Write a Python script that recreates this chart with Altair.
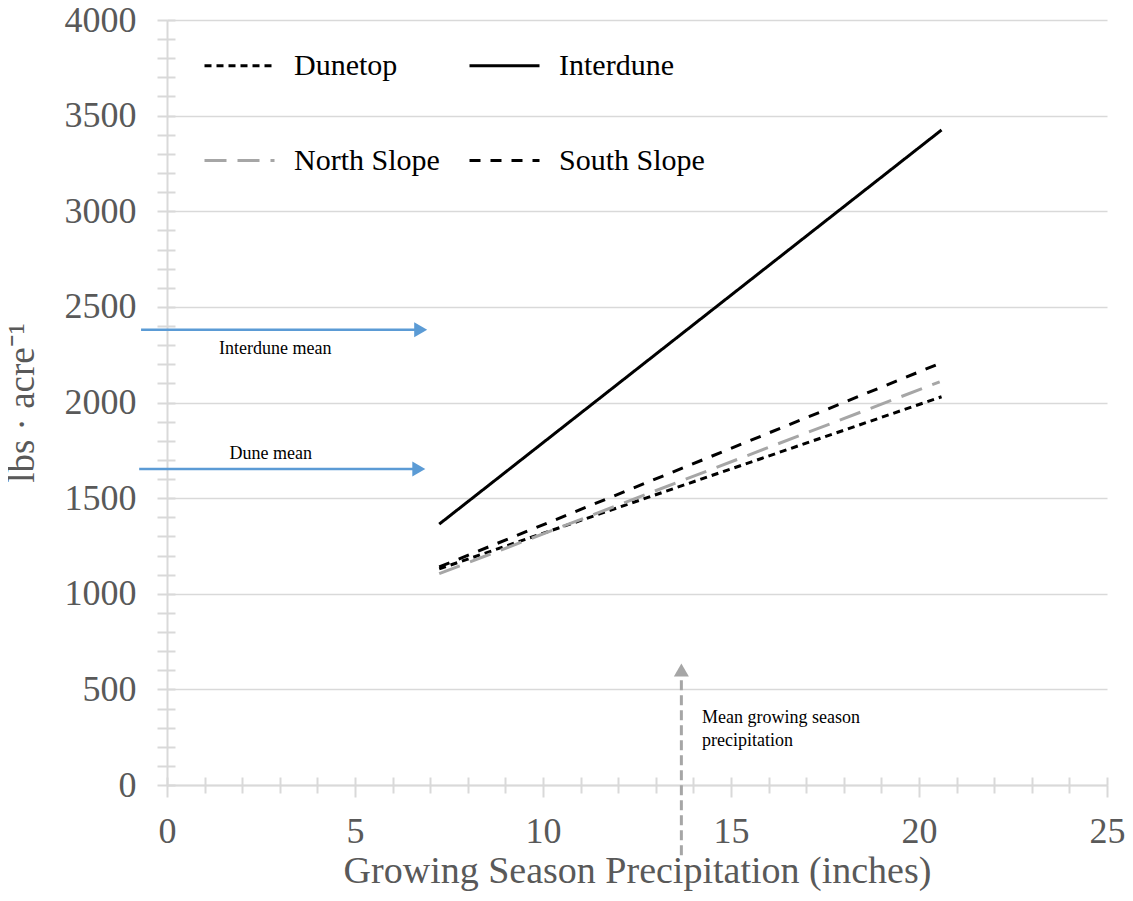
import altair as alt
import pandas as pd

# ---------------- data ----------------
series = ["Dunetop", "Interdune", "North Slope", "South Slope"]
legend_order = ["Dunetop", "North Slope", "Interdune", "South Slope"]
x_start = [7.24, 7.24, 7.24, 7.24]
x_end = [20.6, 20.6, 20.55, 20.6]
y_start = [1130, 1364, 1105, 1140]
y_end = [2030, 3425, 2108, 2208]

line_colors = {"Dunetop": "#000000", "Interdune": "#000000",
               "North Slope": "#A6A6A6", "South Slope": "#000000"}
line_dashes = {"Dunetop": [7, 5], "Interdune": [1, 0],
               "North Slope": [22, 11], "South Slope": [11, 10]}

mean_labels = ["Interdune mean", "Dune mean"]
mean_values = [2380, 1652]
mean_x_from = [-0.69, -0.74]
mean_x_line_to = [6.6, 6.55]
mean_x_tip = [6.92, 6.87]
mean_label_x = [2.88, 2.76]
mean_label_y = [2281, 1731]

precip_mean = [13.68]
precip_from = [-367]
precip_line_to = [590]
precip_tip = [635]
precip_label_lines = ["Mean growing season", "precipitation"]
precip_label_x = [14.23]
precip_label_y = [400]

x_ticks = list(range(0, 26))
y_ticks = list(range(0, 4001, 100))

# ---------------- styling ----------------
FONT = "Liberation Serif"
GRID = "#D9D9D9"
AXC = "#595959"
BLUE = "#5B9BD5"
ARROW_GREY = "#A6A6A6"

rows = []
for s, xa, xb, ya, yb in zip(series, x_start, x_end, y_start, y_end):
    rows.append({"series": s, "x": xa, "y": ya})
    rows.append({"series": s, "x": xb, "y": yb})
lines_df = pd.DataFrame(rows)

mean_df = pd.DataFrame({
    "label": mean_labels, "y": mean_values, "x": mean_x_from,
    "x2": mean_x_line_to, "tip": mean_x_tip, "lx": mean_label_x, "ly": mean_label_y,
})
precip_df = pd.DataFrame({
    "x": precip_mean, "y": precip_from, "y2": precip_line_to, "tip": precip_tip,
    "lx": precip_label_x, "ly": precip_label_y,
})

x_scale = alt.Scale(domain=[0, 25], nice=False, zero=False)
y_scale = alt.Scale(domain=[0, 4000], nice=False, zero=False)

x_axis = alt.Axis(
    orient="bottom", values=x_ticks,
    labelExpr="datum.value % 5 === 0 ? datum.label : ''",
    title="Growing Season Precipitation (inches)", grid=False,
    domainColor=GRID, domainWidth=2, tickColor=GRID, tickWidth=2,
    tickSize={"condition": {"test": "datum.value % 5 === 0", "value": 12}, "value": 8},
    labelFont=FONT, labelFontSize=36, labelColor=AXC, labelPadding=17,
    labelFlush=False, labelOverlap=False,
    titleFont=FONT, titleFontSize=38, titleColor=AXC, titleFontWeight="normal",
    titlePadding=3,
)
y_axis = alt.Axis(
    orient="left", values=y_ticks, format="d",
    labelExpr="datum.value % 500 === 0 ? datum.label : ''",
    title="lbs · acre⁻¹",
    grid=True, gridColor=GRID, gridWidth=1.5,
    gridOpacity={"condition": {"test": "datum.value % 500 === 0", "value": 1}, "value": 0},
    domainColor=GRID, domainWidth=2, tickColor=GRID, tickWidth=2, tickSize=10,
    labelFont=FONT, labelFontSize=36, labelColor=AXC, labelPadding=21,
    labelFlush=False, labelOverlap=False,
    titleFont=FONT, titleFontSize=37, titleColor=AXC, titleFontWeight="normal",
    titlePadding=23,
)
inner_x = alt.Axis(orient="bottom", offset=-8, values=x_ticks, labels=False,
                   domain=False, grid=False, tickSize=8, tickColor=GRID,
                   tickWidth=2, title=None)
inner_y = alt.Axis(orient="left", offset=-8, values=y_ticks, labels=False,
                   domain=False, grid=False, tickSize=8, tickColor=GRID,
                   tickWidth=2, title=None)

legend = alt.Legend(
    title=None, orient="none", legendX=36, legendY=9, columns=2,
    symbolType="stroke", symbolSize=4900, symbolStrokeWidth=3,
    labelFont=FONT, labelFontSize=30, labelColor="black", labelOffset=18,
    rowPadding=43, columnPadding=23, padding=0, labelLimit=400,
)

lines = alt.Chart(lines_df).mark_line(strokeWidth=3, strokeCap="butt").encode(
    x=alt.X("x:Q", scale=x_scale, axis=x_axis),
    y=alt.Y("y:Q", scale=y_scale, axis=y_axis),
    color=alt.Color("series:N", scale=alt.Scale(
        domain=legend_order, range=[line_colors[s] for s in legend_order]),
        legend=legend),
    strokeDash=alt.StrokeDash("series:N", scale=alt.Scale(
        domain=legend_order, range=[line_dashes[s] for s in legend_order]),
        legend=legend),
)

mean_lines = alt.Chart(mean_df).mark_rule(color=BLUE, strokeWidth=2.5).encode(
    x=alt.X("x:Q", scale=x_scale, axis=None), x2="x2:Q",
    y=alt.Y("y:Q", scale=y_scale, axis=None),
)
mean_heads = alt.Chart(mean_df).mark_point(
    shape="triangle-right", filled=True, size=225, color=BLUE, opacity=1, xOffset=-6.5
).encode(
    x=alt.X("tip:Q", scale=x_scale, axis=None),
    y=alt.Y("y:Q", scale=y_scale, axis=None),
)
mean_text = alt.Chart(mean_df).mark_text(font=FONT, fontSize=18, color="black").encode(
    x=alt.X("lx:Q", scale=x_scale, axis=None),
    y=alt.Y("ly:Q", scale=y_scale, axis=None),
    text="label:N",
)

precip_line = alt.Chart(precip_df).mark_rule(
    color=ARROW_GREY, strokeWidth=3, strokeDash=[10, 5]
).encode(
    x=alt.X("x:Q", scale=x_scale, axis=inner_x),
    y=alt.Y("y:Q", scale=y_scale, axis=inner_y), y2="y2:Q",
)
precip_head = alt.Chart(precip_df).mark_point(
    shape="triangle-up", filled=True, size=225, color=ARROW_GREY, opacity=1, yOffset=6.5
).encode(
    x=alt.X("x:Q", scale=x_scale, axis=None),
    y=alt.Y("tip:Q", scale=y_scale, axis=None),
)
precip_text = alt.Chart(precip_df).mark_text(
    font=FONT, fontSize=18, color="black", align="left", baseline="top", lineHeight=23
).encode(
    x=alt.X("lx:Q", scale=x_scale, axis=None),
    y=alt.Y("ly:Q", scale=y_scale, axis=None),
    text=alt.value(precip_label_lines),
)

chart = alt.layer(
    lines, mean_lines, mean_heads, mean_text, precip_line, precip_head, precip_text
).resolve_axis(x="independent", y="independent").properties(
    width=940, height=765,
    autosize=alt.AutoSizeParams(type="none"),
    padding={"left": 159, "top": 12, "right": 18, "bottom": 108},
    background="white",
).configure_view(strokeWidth=0)

chart.save("out.html", embed_options={"renderer": "svg", "actions": False})
